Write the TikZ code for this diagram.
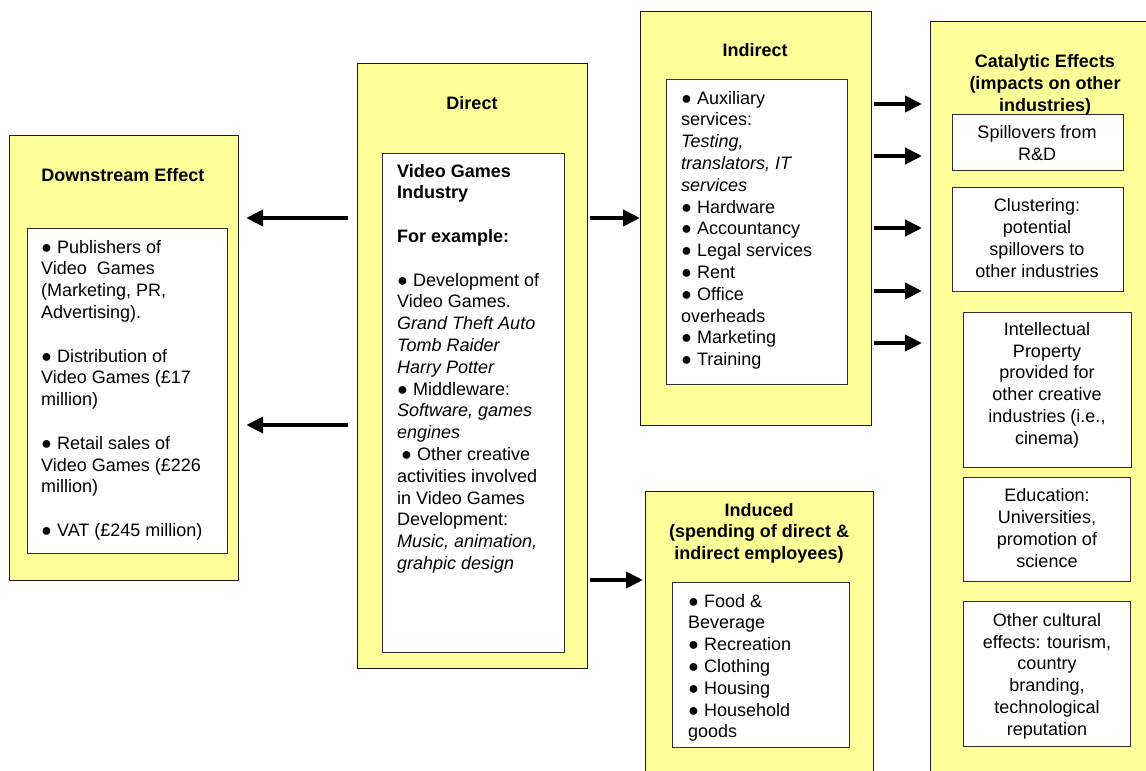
\documentclass[tikz,border=0pt]{standalone}
\usepackage{fontspec}
\setmainfont{Liberation Sans}
\usetikzlibrary{arrows.meta}
\definecolor{yel}{RGB}{255,255,153}
\definecolor{edge}{RGB}{25,25,25}
\definecolor{iedge}{RGB}{45,45,45}
\newcommand{\mybul}{●}
\begin{document}
\begin{tikzpicture}[x=1pt,y=-1pt,
  outer/.style={draw=edge, line width=1.2pt, fill=yel, anchor=north west, inner sep=0pt},
  inner/.style={draw=iedge, line width=1.2pt, fill=white, anchor=north west, inner sep=0pt},
  txt/.style={font=\fontsize{18}{21.8}\selectfont, align=left, anchor=north west, inner sep=0pt},
  ttl/.style={font=\fontsize{18}{21.8}\selectfont\bfseries, align=center, inner sep=0pt},
  ctxt/.style={font=\fontsize{18}{21.8}\selectfont, align=center, inner sep=0pt},
  arr/.style={line width=4pt, -{Triangle[length=17pt,width=16pt]}}
]
\clip (0,0) rectangle (1146,771);
\fill[white] (0,0) rectangle (1146,771);

% outer boxes
\node[outer, minimum width=229pt, minimum height=445pt] (ds) at (9,135) {};
\node[outer, minimum width=230pt, minimum height=605pt] (dir) at (357,63) {};
\node[outer, minimum width=231pt, minimum height=414pt] (ind) at (640,11) {};
\node[outer, minimum width=228pt, minimum height=320pt] (inu) at (645,491) {};
\node[outer, minimum width=400pt, minimum height=900pt] (cat) at (930,21) {};

% inner boxes
\node[inner, minimum width=200pt, minimum height=325pt] (dsi) at (27,228) {};
\node[inner, minimum width=182pt, minimum height=499pt] (diri) at (382,153) {};
\node[inner, minimum width=181pt, minimum height=305pt] (indi) at (666,79) {};
\node[inner, minimum width=177pt, minimum height=165pt] (inui) at (672,582) {};
\node[inner, minimum width=171pt, minimum height=56pt] (c1) at (952,114) {};
\node[inner, minimum width=171pt, minimum height=104pt] (c2) at (952,187) {};
\node[inner, minimum width=168pt, minimum height=155pt] (c3) at (963,312) {};
\node[inner, minimum width=167pt, minimum height=104pt] (c4) at (963,477) {};
\node[inner, minimum width=167pt, minimum height=145pt] (c5) at (963,601) {};

% titles
\node[ttl] (dst) at (123,177) {\strut Downstream Effect\strut};
\node[ttl] (dirt) at (472,105) {\strut Direct\strut};
\node[ttl] (indt) at (755,52) {\strut Indirect\strut};
\node[ttl] (inut) at (759,533.5) {\strut Induced\\(spending of direct \&\\indirect employees)\strut};
\node[ttl] (catt) at (1045,85) {\strut Catalytic Effects\\(impacts on other\\industries)\strut};

% body texts
\node[txt] (dstx) at (41,237.6) {\strut\mybul{} Publishers of\\
Video\ \ Games\\
(Marketing, PR,\\
Advertising).\\[21.8pt]
\mybul{} Distribution of\\
Video Games (£17\\
million)\\[21.8pt]
\mybul{} Retail sales of\\
Video Games (£226\\
million)\\[21.8pt]
\mybul{} VAT (£245 million)\strut};

\node[txt] (dirx) at (397,161.6) {\strut\textbf{Video Games}\\
\textbf{Industry}\\[21.8pt]
\textbf{For example:}\\[21.8pt]
\mybul{} Development of\\
Video Games.\\
\textit{Grand Theft Auto}\\
\textit{Tomb Raider}\\
\textit{Harry Potter}\\
\mybul{} Middleware:\\
\textit{Software, games}\\
\textit{engines}\\
\hspace*{4pt}\mybul{} Other creative\\
activities involved\\
in Video Games\\
Development:\\
\textit{Music, animation,}\\
\textit{grahpic design}\strut};

\node[txt] (indx) at (681,88.6) {\strut\mybul{} Auxiliary\\
services:\\
\textit{Testing,}\\
\textit{translators, IT}\\
\textit{services}\\
\mybul{} Hardware\\
\mybul{} Accountancy\\
\mybul{} Legal services\\
\mybul{} Rent\\
\mybul{} Office\\
overheads\\
\mybul{} Marketing\\
\mybul{} Training\strut};

\node[txt] (inux) at (688,591.6) {\strut\mybul{} Food \&\\
Beverage\\
\mybul{} Recreation\\
\mybul{} Clothing\\
\mybul{} Housing\\
\mybul{} Household\\
goods\strut};

\node[ctxt] (c1t) at (1037,145) {\strut Spillovers from\\R\&D\strut};
\node[ctxt] (c2t) at (1037,240) {\strut Clustering:\\potential\\spillovers to\\other industries\strut};
\node[ctxt] (c3t) at (1047,385.5) {\strut Intellectual\\Property\\provided for\\other creative\\industries (i.e.,\\cinema)\strut};
\node[ctxt] (c4t) at (1047,530) {\strut Education:\\Universities,\\promotion of\\science\strut};
\node[ctxt] (c5t) at (1047,676.5) {\strut Other cultural\\effects: tourism,\\country\\branding,\\technological\\reputation\strut};

% arrows
\draw[arr] ([xshift=-9pt]dir.west |- 0,218) -- ([xshift=7pt]ds.east |- 0,218);
\draw[arr] ([xshift=-9pt]dir.west |- 0,425) -- ([xshift=7pt]ds.east |- 0,425);
\draw[arr] ([xshift=1.5pt]dir.east |- 0,218) -- (ind.west |- 0,218);
\draw[arr] ([xshift=1.5pt]dir.east |- 0,580) -- ([xshift=-2pt]inu.west |- 0,580);
\foreach \yy in {104,156,228,291,343}
  \draw[arr] ([xshift=1.5pt]ind.east |- 0,\yy) -- ([xshift=-8pt]cat.west |- 0,\yy);
\end{tikzpicture}
\end{document}
